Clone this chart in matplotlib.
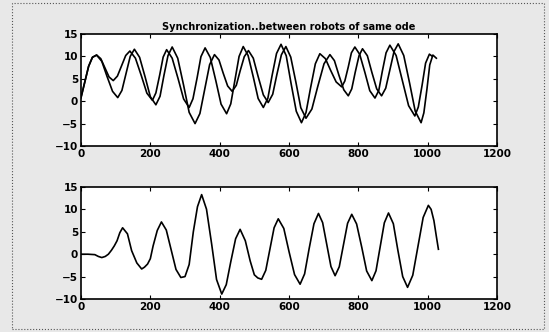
import matplotlib
matplotlib.use("Agg")
from matplotlib import pyplot as plt
from matplotlib.patches import Rectangle
import numpy as np

# Robot 1 (leading) output
x_r1 = [0, 11, 22, 33, 45, 57, 69, 81, 93, 105, 117, 129, 141, 157, 174, 190, 206,
        216, 227, 237, 247, 263, 280, 296, 312, 323, 335, 346, 358, 373, 389, 404, 420,
        432, 444, 456, 468, 482, 497, 511, 526, 539, 551, 564, 577, 592, 606, 621, 636,
        649, 662, 676, 689, 705, 720, 736, 752, 761, 771, 780, 790, 804, 819, 833, 848,
        859, 869, 880, 891, 909, 927, 945, 963, 973, 984, 994, 1005, 1012]
y_r1 = [0.8, 4.3, 7.8, 9.8, 10.3, 9.5, 7.45, 5.4, 4.6, 5.6, 7.9, 10.2, 11.2, 9.6, 5.7, 1.8, 0.2,
        1.85, 5.85, 9.85, 11.5, 9.6, 5.05, 0.5, -1.4, 0.55, 5.25, 9.95, 11.9, 9.75, 4.55, -0.65, -2.8,
        -0.6, 4.7, 10.0, 12.2, 10.2, 5.4, 0.6, -1.4, 0.65, 5.65, 10.65, 12.7, 10.15, 3.95, -2.25, -4.8,
        -2.55, 2.9, 8.35, 10.6, 9.5, 6.9, 4.3, 3.2, 4.5, 7.65, 10.8, 12.1, 10.45, 6.4, 2.35, 0.7,
        2.4, 6.6, 10.8, 12.5, 10.2, 4.6, -1.0, -3.3, -1.3, 3.6, 8.5, 10.5, 10.1]

# Robot 2 (lagging) output
x_r2 = [0, 11, 22, 33, 45, 60, 75, 91, 106, 118, 130, 142, 154, 169, 185, 200, 216,
        228, 239, 251, 263, 279, 296, 312, 329, 343, 357, 371, 385, 398, 410, 423, 436,
        448, 459, 471, 483, 497, 511, 526, 540, 553, 565, 578, 591, 605, 620, 634, 649,
        666, 683, 701, 718, 731, 744, 758, 771, 781, 791, 802, 812, 826, 839, 853, 867,
        879, 891, 903, 915, 931, 948, 964, 981, 989, 998, 1006, 1015, 1025]
y_r2 = [0.8, 4.3, 7.8, 9.8, 10.3, 8.9, 5.55, 2.2, 0.8, 2.4, 6.2, 10.0, 11.6, 9.8, 5.4, 1.0, -0.8,
        1.1, 5.65, 10.2, 12.1, 9.6, 3.55, -2.5, -5.0, -2.75, 2.7, 8.15, 10.4, 9.2, 6.3, 3.4, 2.2,
        3.55, 6.75, 9.95, 11.3, 9.6, 5.5, 1.4, -0.3, 1.55, 5.95, 10.35, 12.2, 9.85, 4.2, -1.45, -3.8,
        -1.75, 3.3, 8.35, 10.4, 9.05, 5.8, 2.55, 1.2, 2.75, 6.45, 10.15, 11.7, 10.15, 6.45, 2.75, 1.2,
        2.9, 7.0, 11.1, 12.8, 10.2, 4.0, -2.2, -4.8, -2.6, 2.75, 8.1, 10.3, 9.6]

# Difference between the two robots
x_diff = [0, 20, 40, 50, 60, 70, 79, 88, 96, 104, 112, 120, 134, 146, 161, 175, 183, 192, 200,
          208, 220, 232, 246, 260, 274, 288, 300, 312, 324, 336, 348, 362, 377, 391, 406,
          419, 432, 446, 459, 474, 488, 500, 510, 521, 533, 545, 557, 569, 585, 600, 616, 632,
          645, 658, 672, 685, 697, 709, 721, 733, 745, 757, 769, 781, 795, 810, 824, 839,
          851, 863, 875, 887, 901, 914, 928, 942, 957, 972, 987, 1002, 1010, 1018, 1025, 1031]
y_diff = [0.0, 0.0, -0.1, -0.5, -0.75, -0.5, 0.0, 0.9, 1.85, 3.0, 4.8, 5.9, 4.55, 0.8, -1.95, -3.3, -2.9, -2.2, -1.0,
          1.85, 5.3, 7.2, 5.4, 1.0, -3.4, -5.2, -5.0, -2.3, 5.0, 10.6, 13.3, 10.05, 2.2, -5.65, -8.9,
          -6.8, -1.7, 3.45, 5.55, 3.0, -1.5, -4.6, -5.3, -5.6, -3.6, 1.15, 5.9, 7.9, 5.75, 0.6, -4.55, -6.7,
          -4.4, 1.2, 6.8, 9.1, 7.05, 2.15, -2.75, -4.8, -2.8, 2.05, 6.9, 8.9, 6.75, 1.5, -3.75, -5.9,
          -3.7, 1.65, 7.0, 9.2, 6.8, 0.9, -5.0, -7.4, -4.7, 1.75, 8.2, 10.9, 10.0, 7.5, 4.0, 1.1]

x_ticks = [0, 200, 400, 600, 800, 1000, 1200]
y_ticks = [-10, -5, 0, 5, 10, 15]
title = "Synchronization..between robots of same ode"

plt.rcParams['font.family'] = ['DejaVu Sans']
plt.rcParams['font.weight'] = 'bold'

W, H = 549, 332
fig = plt.figure(figsize=(W / 100, H / 100), dpi=100, facecolor='#e8e8e8')

# page frame from the scanned sheet
fig.patches.append(Rectangle((12 / W, 3 / H), 532 / W, 326 / H, transform=fig.transFigure,
                             fill=False, edgecolor='#555555', linewidth=0.8, linestyle=':'))

ax1 = fig.add_axes([81 / W, 1 - 146 / H, 416 / W, 112 / H])
ax2 = fig.add_axes([81 / W, 1 - 299 / H, 416 / W, 112 / H])

ax1.plot(x_r1, y_r1, color='black', linewidth=1.2)
ax1.plot(x_r2, y_r2, color='black', linewidth=1.2)
ax1.set_title(title, fontsize=7, fontweight='bold', pad=3)

ax2.plot(x_diff, y_diff, color='black', linewidth=1.2)

for ax in (ax1, ax2):
    ax.set_facecolor('white')
    ax.set_xlim(0, 1200)
    ax.set_ylim(-10, 15)
    ax.set_xticks(x_ticks)
    ax.set_yticks(y_ticks)
    ax.tick_params(direction='in', top=True, right=True, length=3, width=0.8,
                   labelsize=7.5, pad=2)
    for lab in ax.get_xticklabels() + ax.get_yticklabels():
        lab.set_fontweight('bold')
    for sp in ax.spines.values():
        sp.set_linewidth(1.2)

fig.savefig("out.png", dpi=100, facecolor=fig.get_facecolor())
